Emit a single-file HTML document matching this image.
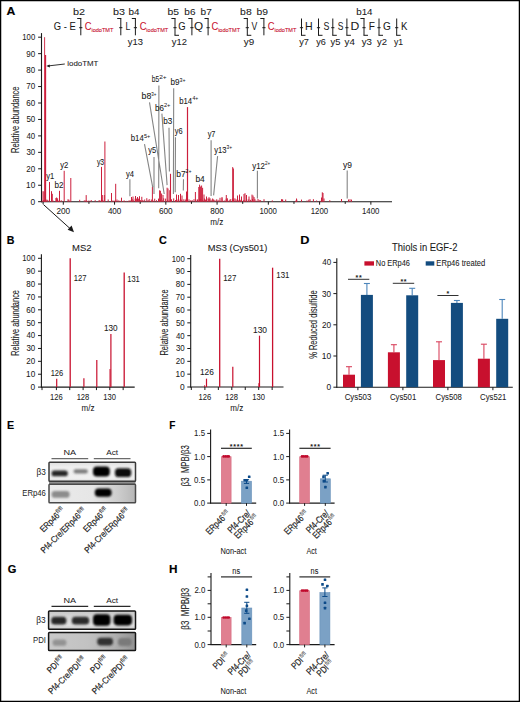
<!DOCTYPE html>
<html><head><meta charset="utf-8"><style>
html,body{margin:0;padding:0;background:#fff;}
svg{display:block;font-family:"Liberation Sans",sans-serif;fill:#1a1a1a;}
</style></head><body>
<svg width="520" height="702" viewBox="0 0 520 702" fill="#1a1a1a">
<rect x="0" y="0" width="520" height="702" fill="#fff"/>
<rect x="0.6" y="0.6" width="518.8" height="700.8" fill="none" stroke="#000" stroke-width="1.3"/>
<text x="6.59" y="15.40" font-size="11.2" fill="#000" stroke="#000" stroke-width="0.15" font-weight="bold" textLength="8.84" lengthAdjust="spacingAndGlyphs">A</text>
<text x="6.78" y="243.70" font-size="11.2" fill="#000" stroke="#000" stroke-width="0.15" font-weight="bold" textLength="7.70" lengthAdjust="spacingAndGlyphs">B</text>
<text x="158.97" y="244.00" font-size="11.2" fill="#000" stroke="#000" stroke-width="0.15" font-weight="bold" textLength="7.83" lengthAdjust="spacingAndGlyphs">C</text>
<text x="300.24" y="244.00" font-size="11.2" fill="#000" stroke="#000" stroke-width="0.15" font-weight="bold" textLength="9.20" lengthAdjust="spacingAndGlyphs">D</text>
<text x="6.98" y="429.30" font-size="11.2" fill="#000" stroke="#000" stroke-width="0.15" font-weight="bold" textLength="7.15" lengthAdjust="spacingAndGlyphs">E</text>
<text x="169.22" y="429.20" font-size="11.2" fill="#000" stroke="#000" stroke-width="0.15" font-weight="bold" textLength="6.14" lengthAdjust="spacingAndGlyphs">F</text>
<text x="7.66" y="572.60" font-size="11.2" fill="#000" stroke="#000" stroke-width="0.15" font-weight="bold" textLength="8.64" lengthAdjust="spacingAndGlyphs">G</text>
<text x="169.11" y="572.50" font-size="11.2" fill="#000" stroke="#000" stroke-width="0.15" font-weight="bold" textLength="8.48" lengthAdjust="spacingAndGlyphs">H</text>
<text x="53.83" y="29.95" font-size="10.2" stroke="#1a1a1a" stroke-width="0.04" textLength="21.96" lengthAdjust="spacingAndGlyphs">G - E</text>
<line x1="80.80" y1="18.50" x2="80.80" y2="35.30" stroke="#1a1a1a" stroke-width="1"/>
<line x1="77.20" y1="18.50" x2="81.30" y2="18.50" stroke="#1a1a1a" stroke-width="1"/>
<line x1="79.20" y1="27.70" x2="82.40" y2="27.70" stroke="#1a1a1a" stroke-width="1"/>
<text x="73.09" y="15.30" font-size="9.3" stroke="#1a1a1a" stroke-width="0.06" textLength="12.07" lengthAdjust="spacingAndGlyphs">b2</text>
<text x="84.83" y="29.95" font-size="10.2" fill="#c8102e" stroke="#c8102e" stroke-width="0.04" textLength="6.82" lengthAdjust="spacingAndGlyphs">C</text>
<text x="91.43" y="32.10" font-size="5.6" fill="#c8102e" stroke="#c8102e" stroke-width="0.1" textLength="21.90" lengthAdjust="spacingAndGlyphs">iodoTMT</text>
<line x1="120.80" y1="18.50" x2="120.80" y2="35.30" stroke="#1a1a1a" stroke-width="1"/>
<line x1="117.20" y1="18.50" x2="121.30" y2="18.50" stroke="#1a1a1a" stroke-width="1"/>
<line x1="119.20" y1="27.70" x2="122.40" y2="27.70" stroke="#1a1a1a" stroke-width="1"/>
<text x="113.10" y="15.30" font-size="9.3" stroke="#1a1a1a" stroke-width="0.06" textLength="11.98" lengthAdjust="spacingAndGlyphs">b3</text>
<text x="125.49" y="29.95" font-size="10.2" stroke="#1a1a1a" stroke-width="0.04" textLength="4.80" lengthAdjust="spacingAndGlyphs">L</text>
<line x1="135.40" y1="18.50" x2="135.40" y2="35.30" stroke="#1a1a1a" stroke-width="1"/>
<line x1="131.80" y1="18.50" x2="135.90" y2="18.50" stroke="#1a1a1a" stroke-width="1"/>
<line x1="133.80" y1="27.70" x2="137.00" y2="27.70" stroke="#1a1a1a" stroke-width="1"/>
<text x="128.56" y="15.30" font-size="9.3" stroke="#1a1a1a" stroke-width="0.06" textLength="10.93" lengthAdjust="spacingAndGlyphs">b4</text>
<text x="127.88" y="45.30" font-size="9.3" stroke="#1a1a1a" stroke-width="0.06" textLength="15.14" lengthAdjust="spacingAndGlyphs">y13</text>
<text x="139.73" y="29.95" font-size="10.2" fill="#c8102e" stroke="#c8102e" stroke-width="0.04" textLength="6.82" lengthAdjust="spacingAndGlyphs">C</text>
<text x="146.33" y="32.10" font-size="5.6" fill="#c8102e" stroke="#c8102e" stroke-width="0.1" textLength="21.90" lengthAdjust="spacingAndGlyphs">iodoTMT</text>
<line x1="175.00" y1="18.50" x2="175.00" y2="35.30" stroke="#1a1a1a" stroke-width="1"/>
<line x1="171.40" y1="18.50" x2="175.50" y2="18.50" stroke="#1a1a1a" stroke-width="1"/>
<line x1="174.50" y1="35.30" x2="179.00" y2="35.30" stroke="#1a1a1a" stroke-width="1"/>
<line x1="173.40" y1="27.70" x2="176.60" y2="27.70" stroke="#1a1a1a" stroke-width="1"/>
<text x="167.43" y="15.30" font-size="9.3" stroke="#1a1a1a" stroke-width="0.06" textLength="11.51" lengthAdjust="spacingAndGlyphs">b5</text>
<text x="171.88" y="45.30" font-size="9.3" stroke="#1a1a1a" stroke-width="0.06" textLength="15.11" lengthAdjust="spacingAndGlyphs">y12</text>
<text x="178.32" y="29.95" font-size="10.2" stroke="#1a1a1a" stroke-width="0.04" textLength="7.39" lengthAdjust="spacingAndGlyphs">G</text>
<line x1="191.90" y1="18.50" x2="191.90" y2="35.30" stroke="#1a1a1a" stroke-width="1"/>
<line x1="188.30" y1="18.50" x2="192.40" y2="18.50" stroke="#1a1a1a" stroke-width="1"/>
<line x1="190.30" y1="27.70" x2="193.50" y2="27.70" stroke="#1a1a1a" stroke-width="1"/>
<text x="184.35" y="15.30" font-size="9.3" stroke="#1a1a1a" stroke-width="0.06" textLength="11.10" lengthAdjust="spacingAndGlyphs">b6</text>
<text x="193.94" y="29.95" font-size="10.2" stroke="#1a1a1a" stroke-width="0.04" textLength="9.12" lengthAdjust="spacingAndGlyphs">Q</text>
<line x1="208.10" y1="18.50" x2="208.10" y2="35.30" stroke="#1a1a1a" stroke-width="1"/>
<line x1="204.50" y1="18.50" x2="208.60" y2="18.50" stroke="#1a1a1a" stroke-width="1"/>
<line x1="206.50" y1="27.70" x2="209.70" y2="27.70" stroke="#1a1a1a" stroke-width="1"/>
<text x="200.55" y="15.30" font-size="9.3" stroke="#1a1a1a" stroke-width="0.06" textLength="11.18" lengthAdjust="spacingAndGlyphs">b7</text>
<text x="211.53" y="29.95" font-size="10.2" fill="#c8102e" stroke="#c8102e" stroke-width="0.04" textLength="6.82" lengthAdjust="spacingAndGlyphs">C</text>
<text x="218.13" y="32.10" font-size="5.6" fill="#c8102e" stroke="#c8102e" stroke-width="0.1" textLength="21.90" lengthAdjust="spacingAndGlyphs">iodoTMT</text>
<line x1="247.30" y1="18.50" x2="247.30" y2="35.30" stroke="#1a1a1a" stroke-width="1"/>
<line x1="243.70" y1="18.50" x2="247.80" y2="18.50" stroke="#1a1a1a" stroke-width="1"/>
<line x1="246.80" y1="35.30" x2="251.30" y2="35.30" stroke="#1a1a1a" stroke-width="1"/>
<line x1="245.70" y1="27.70" x2="248.90" y2="27.70" stroke="#1a1a1a" stroke-width="1"/>
<text x="240.13" y="15.30" font-size="9.3" stroke="#1a1a1a" stroke-width="0.06" textLength="11.54" lengthAdjust="spacingAndGlyphs">b8</text>
<text x="243.88" y="45.30" font-size="9.3" stroke="#1a1a1a" stroke-width="0.06" textLength="10.38" lengthAdjust="spacingAndGlyphs">y9</text>
<text x="251.56" y="29.95" font-size="10.2" stroke="#1a1a1a" stroke-width="0.04" textLength="5.78" lengthAdjust="spacingAndGlyphs">V</text>
<line x1="263.90" y1="18.50" x2="263.90" y2="35.30" stroke="#1a1a1a" stroke-width="1"/>
<line x1="260.30" y1="18.50" x2="264.40" y2="18.50" stroke="#1a1a1a" stroke-width="1"/>
<line x1="262.30" y1="27.70" x2="265.50" y2="27.70" stroke="#1a1a1a" stroke-width="1"/>
<text x="256.63" y="15.30" font-size="9.3" stroke="#1a1a1a" stroke-width="0.06" textLength="11.46" lengthAdjust="spacingAndGlyphs">b9</text>
<text x="267.83" y="29.95" font-size="10.2" fill="#c8102e" stroke="#c8102e" stroke-width="0.04" textLength="6.82" lengthAdjust="spacingAndGlyphs">C</text>
<text x="274.43" y="32.10" font-size="5.6" fill="#c8102e" stroke="#c8102e" stroke-width="0.1" textLength="21.90" lengthAdjust="spacingAndGlyphs">iodoTMT</text>
<line x1="301.50" y1="18.50" x2="301.50" y2="35.30" stroke="#1a1a1a" stroke-width="1"/>
<line x1="301.00" y1="35.30" x2="305.50" y2="35.30" stroke="#1a1a1a" stroke-width="1"/>
<line x1="299.90" y1="27.70" x2="303.10" y2="27.70" stroke="#1a1a1a" stroke-width="1"/>
<text x="299.28" y="45.30" font-size="9.3" stroke="#1a1a1a" stroke-width="0.06" textLength="9.69" lengthAdjust="spacingAndGlyphs">y7</text>
<text x="305.13" y="29.95" font-size="10.2" stroke="#1a1a1a" stroke-width="0.04" textLength="7.64" lengthAdjust="spacingAndGlyphs">H</text>
<line x1="318.50" y1="18.50" x2="318.50" y2="35.30" stroke="#1a1a1a" stroke-width="1"/>
<line x1="318.00" y1="35.30" x2="322.50" y2="35.30" stroke="#1a1a1a" stroke-width="1"/>
<line x1="316.90" y1="27.70" x2="320.10" y2="27.70" stroke="#1a1a1a" stroke-width="1"/>
<text x="316.18" y="45.30" font-size="9.3" stroke="#1a1a1a" stroke-width="0.06" textLength="9.62" lengthAdjust="spacingAndGlyphs">y6</text>
<text x="323.40" y="29.95" font-size="10.2" stroke="#1a1a1a" stroke-width="0.04" textLength="5.89" lengthAdjust="spacingAndGlyphs">S</text>
<line x1="332.80" y1="18.50" x2="332.80" y2="35.30" stroke="#1a1a1a" stroke-width="1"/>
<line x1="332.30" y1="35.30" x2="336.80" y2="35.30" stroke="#1a1a1a" stroke-width="1"/>
<line x1="331.20" y1="27.70" x2="334.40" y2="27.70" stroke="#1a1a1a" stroke-width="1"/>
<text x="330.48" y="45.30" font-size="9.3" stroke="#1a1a1a" stroke-width="0.06" textLength="9.91" lengthAdjust="spacingAndGlyphs">y5</text>
<text x="337.82" y="29.95" font-size="10.2" stroke="#1a1a1a" stroke-width="0.04" textLength="5.66" lengthAdjust="spacingAndGlyphs">S</text>
<line x1="346.90" y1="18.50" x2="346.90" y2="35.30" stroke="#1a1a1a" stroke-width="1"/>
<line x1="346.40" y1="35.30" x2="350.90" y2="35.30" stroke="#1a1a1a" stroke-width="1"/>
<line x1="345.30" y1="27.70" x2="348.50" y2="27.70" stroke="#1a1a1a" stroke-width="1"/>
<text x="344.58" y="45.30" font-size="9.3" stroke="#1a1a1a" stroke-width="0.06" textLength="10.30" lengthAdjust="spacingAndGlyphs">y4</text>
<text x="350.50" y="29.95" font-size="10.2" stroke="#1a1a1a" stroke-width="0.04" textLength="8.78" lengthAdjust="spacingAndGlyphs">D</text>
<line x1="364.00" y1="18.50" x2="364.00" y2="35.30" stroke="#1a1a1a" stroke-width="1"/>
<line x1="360.40" y1="18.50" x2="364.50" y2="18.50" stroke="#1a1a1a" stroke-width="1"/>
<line x1="363.50" y1="35.30" x2="368.00" y2="35.30" stroke="#1a1a1a" stroke-width="1"/>
<line x1="362.40" y1="27.70" x2="365.60" y2="27.70" stroke="#1a1a1a" stroke-width="1"/>
<text x="356.26" y="15.30" font-size="9.3" stroke="#1a1a1a" stroke-width="0.06" textLength="16.31" lengthAdjust="spacingAndGlyphs">b14</text>
<text x="361.68" y="45.30" font-size="9.3" stroke="#1a1a1a" stroke-width="0.06" textLength="10.25" lengthAdjust="spacingAndGlyphs">y3</text>
<text x="368.67" y="29.95" font-size="10.2" stroke="#1a1a1a" stroke-width="0.04" textLength="6.14" lengthAdjust="spacingAndGlyphs">F</text>
<line x1="379.00" y1="18.50" x2="379.00" y2="35.30" stroke="#1a1a1a" stroke-width="1"/>
<line x1="378.50" y1="35.30" x2="383.00" y2="35.30" stroke="#1a1a1a" stroke-width="1"/>
<line x1="377.40" y1="27.70" x2="380.60" y2="27.70" stroke="#1a1a1a" stroke-width="1"/>
<text x="376.98" y="45.30" font-size="9.3" stroke="#1a1a1a" stroke-width="0.06" textLength="10.01" lengthAdjust="spacingAndGlyphs">y2</text>
<text x="383.09" y="29.95" font-size="10.2" stroke="#1a1a1a" stroke-width="0.04" textLength="7.87" lengthAdjust="spacingAndGlyphs">G</text>
<line x1="396.70" y1="18.50" x2="396.70" y2="35.30" stroke="#1a1a1a" stroke-width="1"/>
<line x1="396.20" y1="35.30" x2="400.70" y2="35.30" stroke="#1a1a1a" stroke-width="1"/>
<line x1="395.10" y1="27.70" x2="398.30" y2="27.70" stroke="#1a1a1a" stroke-width="1"/>
<text x="393.98" y="45.30" font-size="9.3" stroke="#1a1a1a" stroke-width="0.06" textLength="9.14" lengthAdjust="spacingAndGlyphs">y1</text>
<text x="401.01" y="29.95" font-size="10.2" stroke="#1a1a1a" stroke-width="0.04" textLength="6.41" lengthAdjust="spacingAndGlyphs">K</text>
<line x1="41.50" y1="33.10" x2="41.50" y2="202.20" stroke="#1a1a1a" stroke-width="1.1"/>
<line x1="41.00" y1="201.70" x2="392.00" y2="201.70" stroke="#1a1a1a" stroke-width="1.1"/>
<line x1="38.10" y1="201.70" x2="41.50" y2="201.70" stroke="#1a1a1a" stroke-width="1"/>
<text x="30.56" y="204.60" font-size="8.6" stroke="#1a1a1a" stroke-width="0.05" textLength="4.66" lengthAdjust="spacingAndGlyphs">0</text>
<line x1="38.10" y1="185.25" x2="41.50" y2="185.25" stroke="#1a1a1a" stroke-width="1"/>
<text x="26.08" y="188.15" font-size="8.6" stroke="#1a1a1a" stroke-width="0.05" textLength="9.14" lengthAdjust="spacingAndGlyphs">10</text>
<line x1="38.10" y1="168.80" x2="41.50" y2="168.80" stroke="#1a1a1a" stroke-width="1"/>
<text x="26.30" y="171.70" font-size="8.6" stroke="#1a1a1a" stroke-width="0.05" textLength="8.92" lengthAdjust="spacingAndGlyphs">20</text>
<line x1="38.10" y1="152.35" x2="41.50" y2="152.35" stroke="#1a1a1a" stroke-width="1"/>
<text x="26.40" y="155.25" font-size="8.6" stroke="#1a1a1a" stroke-width="0.05" textLength="8.81" lengthAdjust="spacingAndGlyphs">30</text>
<line x1="38.10" y1="135.90" x2="41.50" y2="135.90" stroke="#1a1a1a" stroke-width="1"/>
<text x="26.52" y="138.80" font-size="8.6" stroke="#1a1a1a" stroke-width="0.05" textLength="8.69" lengthAdjust="spacingAndGlyphs">40</text>
<line x1="38.10" y1="119.45" x2="41.50" y2="119.45" stroke="#1a1a1a" stroke-width="1"/>
<text x="26.38" y="122.35" font-size="8.6" stroke="#1a1a1a" stroke-width="0.05" textLength="8.83" lengthAdjust="spacingAndGlyphs">50</text>
<line x1="38.10" y1="103.00" x2="41.50" y2="103.00" stroke="#1a1a1a" stroke-width="1"/>
<text x="26.30" y="105.90" font-size="8.6" stroke="#1a1a1a" stroke-width="0.05" textLength="8.92" lengthAdjust="spacingAndGlyphs">60</text>
<line x1="38.10" y1="86.55" x2="41.50" y2="86.55" stroke="#1a1a1a" stroke-width="1"/>
<text x="26.30" y="89.45" font-size="8.6" stroke="#1a1a1a" stroke-width="0.05" textLength="8.92" lengthAdjust="spacingAndGlyphs">70</text>
<line x1="38.10" y1="70.10" x2="41.50" y2="70.10" stroke="#1a1a1a" stroke-width="1"/>
<text x="26.36" y="73.00" font-size="8.6" stroke="#1a1a1a" stroke-width="0.05" textLength="8.86" lengthAdjust="spacingAndGlyphs">80</text>
<line x1="38.10" y1="53.65" x2="41.50" y2="53.65" stroke="#1a1a1a" stroke-width="1"/>
<text x="26.32" y="56.55" font-size="8.6" stroke="#1a1a1a" stroke-width="0.05" textLength="8.90" lengthAdjust="spacingAndGlyphs">90</text>
<line x1="38.10" y1="37.20" x2="41.50" y2="37.20" stroke="#1a1a1a" stroke-width="1"/>
<text x="22.32" y="40.10" font-size="8.6" stroke="#1a1a1a" stroke-width="0.05" textLength="12.88" lengthAdjust="spacingAndGlyphs">100</text>
<line x1="63.30" y1="201.70" x2="63.30" y2="204.70" stroke="#1a1a1a" stroke-width="1"/>
<text x="56.39" y="214.00" font-size="8.6" stroke="#1a1a1a" stroke-width="0.05" textLength="13.73" lengthAdjust="spacingAndGlyphs">200</text>
<line x1="88.93" y1="201.70" x2="88.93" y2="203.90" stroke="#1a1a1a" stroke-width="1"/>
<line x1="114.56" y1="201.70" x2="114.56" y2="204.70" stroke="#1a1a1a" stroke-width="1"/>
<text x="107.88" y="214.00" font-size="8.6" stroke="#1a1a1a" stroke-width="0.05" textLength="13.49" lengthAdjust="spacingAndGlyphs">400</text>
<line x1="140.19" y1="201.70" x2="140.19" y2="203.90" stroke="#1a1a1a" stroke-width="1"/>
<line x1="165.82" y1="201.70" x2="165.82" y2="204.70" stroke="#1a1a1a" stroke-width="1"/>
<text x="158.91" y="214.00" font-size="8.6" stroke="#1a1a1a" stroke-width="0.05" textLength="13.73" lengthAdjust="spacingAndGlyphs">600</text>
<line x1="191.45" y1="201.70" x2="191.45" y2="203.90" stroke="#1a1a1a" stroke-width="1"/>
<line x1="217.08" y1="201.70" x2="217.08" y2="204.70" stroke="#1a1a1a" stroke-width="1"/>
<text x="210.23" y="214.00" font-size="8.6" stroke="#1a1a1a" stroke-width="0.05" textLength="13.66" lengthAdjust="spacingAndGlyphs">800</text>
<line x1="242.71" y1="201.70" x2="242.71" y2="203.90" stroke="#1a1a1a" stroke-width="1"/>
<line x1="268.34" y1="201.70" x2="268.34" y2="204.70" stroke="#1a1a1a" stroke-width="1"/>
<text x="259.50" y="214.00" font-size="8.6" stroke="#1a1a1a" stroke-width="0.05" textLength="17.40" lengthAdjust="spacingAndGlyphs">1000</text>
<line x1="293.97" y1="201.70" x2="293.97" y2="203.90" stroke="#1a1a1a" stroke-width="1"/>
<line x1="319.60" y1="201.70" x2="319.60" y2="204.70" stroke="#1a1a1a" stroke-width="1"/>
<text x="310.76" y="214.00" font-size="8.6" stroke="#1a1a1a" stroke-width="0.05" textLength="17.40" lengthAdjust="spacingAndGlyphs">1200</text>
<line x1="345.23" y1="201.70" x2="345.23" y2="203.90" stroke="#1a1a1a" stroke-width="1"/>
<line x1="370.86" y1="201.70" x2="370.86" y2="204.70" stroke="#1a1a1a" stroke-width="1"/>
<text x="362.02" y="214.00" font-size="8.6" stroke="#1a1a1a" stroke-width="0.05" textLength="17.40" lengthAdjust="spacingAndGlyphs">1400</text>
<line x1="43.10" y1="201.70" x2="43.10" y2="204.20" stroke="#1a1a1a" stroke-width="1"/>
<text x="210.25" y="224.80" font-size="9.6" stroke="#1a1a1a" stroke-width="0.05" textLength="13.06" lengthAdjust="spacingAndGlyphs">m/z</text>
<text transform="translate(19.00,152.40) rotate(-90)" x="-0.62" y="0" font-size="10.2" stroke="#1a1a1a" stroke-width="0.08" textLength="66.54" lengthAdjust="spacingAndGlyphs">Relative abundance</text>
<path d="M42.0 201.7V200.7M43.7 201.7V200.0M45.0 201.7V200.1M45.9 201.7V200.8M46.8 201.7V199.6M47.8 201.7V199.9M53.3 201.7V200.7M57.3 201.7V200.0M58.2 201.7V200.6M59.9 201.7V200.4M61.6 201.7V200.4M68.0 201.7V199.3M68.9 201.7V199.7M70.0 201.7V200.8M79.7 201.7V199.8M84.3 201.7V200.3M86.0 201.7V200.2M87.0 201.7V200.8M88.9 201.7V200.5M91.2 201.7V200.0M95.2 201.7V200.2M98.7 201.7V200.6M99.8 201.7V200.1M101.4 201.7V200.9M102.8 201.7V200.0M108.2 201.7V199.5M112.0 201.7V200.3M113.8 201.7V200.6M114.9 201.7V200.8M115.7 201.7V200.7M117.0 201.7V199.5M118.6 201.7V200.5M119.9 201.7V200.7M123.4 201.7V200.8M124.3 201.7V200.5M126.3 201.7V200.9M128.4 201.7V200.7M130.0 201.7V200.1M132.1 201.7V198.9M133.3 201.7V200.3M135.2 201.7V198.7M136.4 201.7V198.6M138.6 201.7V198.6M140.6 201.7V200.1M142.1 201.7V200.6M142.9 201.7V200.0M144.7 201.7V199.5M146.8 201.7V198.2M148.1 201.7V200.1M149.2 201.7V199.1M151.3 201.7V199.5M153.0 201.7V200.5M154.7 201.7V198.7M156.5 201.7V200.2M158.5 201.7V198.6M160.6 201.7V199.7M162.7 201.7V200.3M163.7 201.7V198.3M165.6 201.7V198.6M167.8 201.7V199.8M169.4 201.7V200.7M171.5 201.7V199.3M173.7 201.7V198.4M175.6 201.7V200.0M176.8 201.7V199.2M178.0 201.7V200.4M180.1 201.7V199.5M181.7 201.7V199.6M183.8 201.7V199.3M185.3 201.7V199.6M186.3 201.7V198.6M187.4 201.7V198.8M189.0 201.7V199.4M190.5 201.7V200.4M192.1 201.7V200.0M194.0 201.7V199.2M195.9 201.7V199.5M197.5 201.7V199.4M199.3 201.7V199.3M200.8 201.7V198.9M202.8 201.7V200.0M204.4 201.7V198.5M205.4 201.7V199.6M206.3 201.7V200.5M208.0 201.7V198.4M209.0 201.7V199.0M210.0 201.7V198.2M211.1 201.7V199.7M212.6 201.7V198.5M213.6 201.7V199.4M214.9 201.7V199.9M216.7 201.7V199.3M218.1 201.7V199.8M219.8 201.7V200.5M222.0 201.7V198.2M222.9 201.7V200.6M224.8 201.7V200.4M226.2 201.7V198.6M227.4 201.7V198.3M229.0 201.7V200.5M229.9 201.7V199.6M230.8 201.7V199.1M232.7 201.7V198.5M233.6 201.7V199.5M234.9 201.7V198.3M236.0 201.7V199.3M237.2 201.7V200.3M238.0 201.7V199.9M239.3 201.7V199.9M240.8 201.7V199.8M241.6 201.7V200.7M243.4 201.7V200.2M244.9 201.7V200.4M246.8 201.7V199.4M248.8 201.7V199.4M250.6 201.7V199.8M252.5 201.7V199.0M253.9 201.7V200.6M254.9 201.7V198.8M256.0 201.7V200.5M258.0 201.7V199.0M259.2 201.7V199.9M260.6 201.7V200.2M272.3 201.7V200.4M282.7 201.7V199.6M295.5 201.7V200.7M296.8 201.7V199.6M301.5 201.7V199.6M307.0 201.7V200.5M308.8 201.7V199.7M316.6 201.7V200.5M320.1 201.7V200.8M329.8 201.7V200.2M43.0 201.7V191.2M44.0 201.7V191.5M49.5 201.7V182.0M51.5 201.7V191.2M52.3 201.7V193.8M55.9 201.7V198.0M56.6 201.7V197.5M57.6 201.7V198.3M59.5 201.7V190.8M64.2 201.7V170.8M70.8 201.7V178.0M86.2 201.7V195.1M101.5 201.7V166.9M102.3 201.7V195.0M104.3 201.7V195.0M104.9 201.7V141.5M111.5 201.7V193.0M115.7 201.7V183.8M121.5 201.7V197.7M131.5 201.7V197.0M133.0 201.7V196.5M135.5 201.7V196.0M137.5 201.7V197.0M139.5 201.7V196.2M141.8 201.7V196.8M152.4 201.7V186.6M159.6 201.7V190.3M160.4 201.7V190.8M161.6 201.7V193.5M163.0 201.7V195.0M167.1 201.7V187.7M168.0 201.7V188.5M169.8 201.7V190.2M176.5 201.7V194.5M178.5 201.7V195.0M180.5 201.7V193.8M182.0 201.7V195.5M186.5 201.7V191.5M195.4 201.7V192.0M198.8 201.7V187.0M199.6 201.7V184.6M200.6 201.7V186.5M201.6 201.7V185.5M202.6 201.7V187.8M204.0 201.7V194.5M206.5 201.7V196.5M209.0 201.7V197.2M220.0 201.7V197.8M222.0 201.7V197.0M226.3 201.7V195.0M232.7 201.7V167.1M233.4 201.7V168.5M237.5 201.7V195.5M239.5 201.7V194.5M241.5 201.7V196.5M244.0 201.7V194.0M245.0 201.7V193.2M246.5 201.7V195.0M249.0 201.7V196.5M252.0 201.7V194.6M253.0 201.7V195.5M254.0 201.7V197.0M264.0 201.7V199.2M281.5 201.7V199.2M282.5 201.7V199.5M285.7 201.7V199.5M296.5 201.7V198.5M310.0 201.7V199.2M313.4 201.7V199.2M321.5 201.7V197.5M322.3 201.7V192.3M323.0 201.7V193.0M324.0 201.7V198.5M341.5 201.7V199.0M348.5 201.7V199.5M350.0 201.7V199.2M351.5 201.7V199.6" stroke="#cc1f3c" stroke-width="1" fill="none"/>
<line x1="44.60" y1="201.70" x2="44.60" y2="37.20" stroke="#cc1f3c" stroke-width="0.9"/>
<line x1="45.50" y1="201.70" x2="45.50" y2="55.00" stroke="#cc1f3c" stroke-width="1.3"/>
<line x1="170.50" y1="201.70" x2="170.50" y2="173.80" stroke="#cc1f3c" stroke-width="1.1"/>
<line x1="187.50" y1="201.70" x2="187.50" y2="107.10" stroke="#cc1f3c" stroke-width="1.2"/>
<path d="M129.9 179.2L129.9 196.2M154.0 157.0L154.0 194.0M158.9 85.6L158.7 188.3M173.7 88.3L173.4 194.0M149.5 102.4L164.2 194.0M161.9 113.6L167.1 185.1M169.0 127.8L169.4 171.5M175.5 137.2L175.2 192.3M144.5 144.2L152.7 187.1M183.5 179.2L183.3 190.6M211.1 140.2L211.1 196.0M217.6 156.1L213.6 195.4M257.4 170.8L257.4 198.5M347.2 170.5L347.2 198.5" stroke="#858585" stroke-width="1.1" fill="none"/>
<text x="46.18" y="179.20" font-size="8.4" stroke="#1a1a1a" stroke-width="0.08" textLength="7.99" lengthAdjust="spacingAndGlyphs">y1</text>
<text x="54.58" y="187.70" font-size="8.4" stroke="#1a1a1a" stroke-width="0.08" textLength="8.94" lengthAdjust="spacingAndGlyphs">b2</text>
<text x="60.28" y="167.70" font-size="8.4" stroke="#1a1a1a" stroke-width="0.08" textLength="8.11" lengthAdjust="spacingAndGlyphs">y2</text>
<text x="96.88" y="164.60" font-size="8.4" stroke="#1a1a1a" stroke-width="0.08" textLength="7.22" lengthAdjust="spacingAndGlyphs">y3</text>
<text x="125.98" y="176.90" font-size="8.4" stroke="#1a1a1a" stroke-width="0.08" textLength="8.04" lengthAdjust="spacingAndGlyphs">y4</text>
<text x="130.80" y="140.90" font-size="8.4" stroke="#1a1a1a" stroke-width="0.08" textLength="12.92" lengthAdjust="spacingAndGlyphs">b14</text>
<text x="143.88" y="137.50" font-size="5.8" stroke="#1a1a1a" stroke-width="0.05" textLength="6.30" lengthAdjust="spacingAndGlyphs">5+</text>
<text x="148.18" y="153.00" font-size="8.4" stroke="#1a1a1a" stroke-width="0.08" textLength="7.93" lengthAdjust="spacingAndGlyphs">y5</text>
<text x="151.77" y="82.20" font-size="8.4" stroke="#1a1a1a" stroke-width="0.08" textLength="7.42" lengthAdjust="spacingAndGlyphs">b5</text>
<text x="159.17" y="78.80" font-size="5.8" stroke="#1a1a1a" stroke-width="0.05" textLength="7.45" lengthAdjust="spacingAndGlyphs">2+</text>
<text x="170.47" y="84.90" font-size="8.4" stroke="#1a1a1a" stroke-width="0.08" textLength="9.01" lengthAdjust="spacingAndGlyphs">b9</text>
<text x="179.50" y="81.50" font-size="5.8" stroke="#1a1a1a" stroke-width="0.05" textLength="5.96" lengthAdjust="spacingAndGlyphs">3+</text>
<text x="141.53" y="99.00" font-size="8.4" stroke="#1a1a1a" stroke-width="0.08" textLength="9.76" lengthAdjust="spacingAndGlyphs">b8</text>
<text x="151.33" y="95.60" font-size="5.8" stroke="#1a1a1a" stroke-width="0.05" textLength="5.09" lengthAdjust="spacingAndGlyphs">3+</text>
<text x="155.08" y="110.50" font-size="8.4" stroke="#1a1a1a" stroke-width="0.08" textLength="8.88" lengthAdjust="spacingAndGlyphs">b6</text>
<text x="163.92" y="107.10" font-size="5.8" stroke="#1a1a1a" stroke-width="0.05" textLength="6.47" lengthAdjust="spacingAndGlyphs">2+</text>
<text x="179.30" y="103.70" font-size="8.4" stroke="#1a1a1a" stroke-width="0.08" textLength="12.82" lengthAdjust="spacingAndGlyphs">b14</text>
<text x="192.38" y="100.30" font-size="5.8" stroke="#1a1a1a" stroke-width="0.05" textLength="5.87" lengthAdjust="spacingAndGlyphs">4+</text>
<text x="163.37" y="124.30" font-size="8.4" stroke="#1a1a1a" stroke-width="0.08" textLength="8.99" lengthAdjust="spacingAndGlyphs">b3</text>
<text x="174.68" y="133.50" font-size="8.4" stroke="#1a1a1a" stroke-width="0.08" textLength="7.84" lengthAdjust="spacingAndGlyphs">y6</text>
<text x="176.25" y="176.50" font-size="8.4" stroke="#1a1a1a" stroke-width="0.08" textLength="9.39" lengthAdjust="spacingAndGlyphs">b7</text>
<text x="185.54" y="173.10" font-size="5.8" stroke="#1a1a1a" stroke-width="0.05" textLength="5.92" lengthAdjust="spacingAndGlyphs">2+</text>
<text x="195.46" y="181.90" font-size="8.4" stroke="#1a1a1a" stroke-width="0.08" textLength="9.29" lengthAdjust="spacingAndGlyphs">b4</text>
<text x="207.68" y="137.30" font-size="8.4" stroke="#1a1a1a" stroke-width="0.08" textLength="7.80" lengthAdjust="spacingAndGlyphs">y7</text>
<text x="214.28" y="152.60" font-size="8.4" stroke="#1a1a1a" stroke-width="0.08" textLength="12.26" lengthAdjust="spacingAndGlyphs">y13</text>
<text x="226.61" y="149.20" font-size="5.8" stroke="#1a1a1a" stroke-width="0.05" textLength="5.63" lengthAdjust="spacingAndGlyphs">3+</text>
<text x="252.28" y="168.50" font-size="8.4" stroke="#1a1a1a" stroke-width="0.08" textLength="12.73" lengthAdjust="spacingAndGlyphs">y12</text>
<text x="264.97" y="165.10" font-size="5.8" stroke="#1a1a1a" stroke-width="0.05" textLength="5.26" lengthAdjust="spacingAndGlyphs">2+</text>
<text x="342.98" y="167.70" font-size="8.4" stroke="#1a1a1a" stroke-width="0.08" textLength="8.91" lengthAdjust="spacingAndGlyphs">y9</text>
<text x="67.27" y="66.40" font-size="7.9" stroke="#1a1a1a" stroke-width="0.06" textLength="31.11" lengthAdjust="spacingAndGlyphs">iodoTMT</text>
<line x1="64.80" y1="64.00" x2="48.50" y2="65.90" stroke="#1a1a1a" stroke-width="0.9"/>
<polygon points="46.3,66.1 49.6,64.4 49.9,67.5" fill="#1a1a1a"/>
<line x1="43.50" y1="204.60" x2="71.00" y2="229.40" stroke="#1a1a1a" stroke-width="1.0"/>
<polygon points="74.0,232.2 67.6,229.8 71.6,225.6" fill="#1a1a1a"/>
<line x1="41.40" y1="254.20" x2="41.40" y2="387.60" stroke="#1a1a1a" stroke-width="1.1"/>
<line x1="40.90" y1="387.10" x2="134.70" y2="387.10" stroke="#1a1a1a" stroke-width="1.1"/>
<line x1="38.00" y1="387.10" x2="41.40" y2="387.10" stroke="#1a1a1a" stroke-width="1"/>
<text x="30.56" y="390.00" font-size="8.6" stroke="#1a1a1a" stroke-width="0.05" textLength="4.66" lengthAdjust="spacingAndGlyphs">0</text>
<line x1="38.00" y1="374.22" x2="41.40" y2="374.22" stroke="#1a1a1a" stroke-width="1"/>
<text x="26.08" y="377.12" font-size="8.6" stroke="#1a1a1a" stroke-width="0.05" textLength="9.14" lengthAdjust="spacingAndGlyphs">10</text>
<line x1="38.00" y1="361.34" x2="41.40" y2="361.34" stroke="#1a1a1a" stroke-width="1"/>
<text x="26.30" y="364.24" font-size="8.6" stroke="#1a1a1a" stroke-width="0.05" textLength="8.92" lengthAdjust="spacingAndGlyphs">20</text>
<line x1="38.00" y1="348.46" x2="41.40" y2="348.46" stroke="#1a1a1a" stroke-width="1"/>
<text x="26.40" y="351.36" font-size="8.6" stroke="#1a1a1a" stroke-width="0.05" textLength="8.81" lengthAdjust="spacingAndGlyphs">30</text>
<line x1="38.00" y1="335.58" x2="41.40" y2="335.58" stroke="#1a1a1a" stroke-width="1"/>
<text x="26.52" y="338.48" font-size="8.6" stroke="#1a1a1a" stroke-width="0.05" textLength="8.69" lengthAdjust="spacingAndGlyphs">40</text>
<line x1="38.00" y1="322.70" x2="41.40" y2="322.70" stroke="#1a1a1a" stroke-width="1"/>
<text x="26.38" y="325.60" font-size="8.6" stroke="#1a1a1a" stroke-width="0.05" textLength="8.83" lengthAdjust="spacingAndGlyphs">50</text>
<line x1="38.00" y1="309.82" x2="41.40" y2="309.82" stroke="#1a1a1a" stroke-width="1"/>
<text x="26.30" y="312.72" font-size="8.6" stroke="#1a1a1a" stroke-width="0.05" textLength="8.92" lengthAdjust="spacingAndGlyphs">60</text>
<line x1="38.00" y1="296.94" x2="41.40" y2="296.94" stroke="#1a1a1a" stroke-width="1"/>
<text x="26.30" y="299.84" font-size="8.6" stroke="#1a1a1a" stroke-width="0.05" textLength="8.92" lengthAdjust="spacingAndGlyphs">70</text>
<line x1="38.00" y1="284.06" x2="41.40" y2="284.06" stroke="#1a1a1a" stroke-width="1"/>
<text x="26.36" y="286.96" font-size="8.6" stroke="#1a1a1a" stroke-width="0.05" textLength="8.86" lengthAdjust="spacingAndGlyphs">80</text>
<line x1="38.00" y1="271.18" x2="41.40" y2="271.18" stroke="#1a1a1a" stroke-width="1"/>
<text x="26.32" y="274.08" font-size="8.6" stroke="#1a1a1a" stroke-width="0.05" textLength="8.90" lengthAdjust="spacingAndGlyphs">90</text>
<line x1="38.00" y1="258.30" x2="41.40" y2="258.30" stroke="#1a1a1a" stroke-width="1"/>
<text x="22.32" y="261.20" font-size="8.6" stroke="#1a1a1a" stroke-width="0.05" textLength="12.88" lengthAdjust="spacingAndGlyphs">100</text>
<line x1="42.00" y1="387.10" x2="42.00" y2="390.10" stroke="#1a1a1a" stroke-width="1"/>
<line x1="56.40" y1="387.10" x2="56.40" y2="390.10" stroke="#1a1a1a" stroke-width="1"/>
<text x="49.93" y="399.60" font-size="8.6" stroke="#1a1a1a" stroke-width="0.05" textLength="12.70" lengthAdjust="spacingAndGlyphs">126</text>
<line x1="69.75" y1="387.10" x2="69.75" y2="390.10" stroke="#1a1a1a" stroke-width="1"/>
<line x1="83.10" y1="387.10" x2="83.10" y2="390.10" stroke="#1a1a1a" stroke-width="1"/>
<text x="76.63" y="399.60" font-size="8.6" stroke="#1a1a1a" stroke-width="0.05" textLength="12.70" lengthAdjust="spacingAndGlyphs">128</text>
<line x1="96.45" y1="387.10" x2="96.45" y2="390.10" stroke="#1a1a1a" stroke-width="1"/>
<line x1="109.80" y1="387.10" x2="109.80" y2="390.10" stroke="#1a1a1a" stroke-width="1"/>
<text x="103.33" y="399.60" font-size="8.6" stroke="#1a1a1a" stroke-width="0.05" textLength="12.66" lengthAdjust="spacingAndGlyphs">130</text>
<line x1="123.15" y1="387.10" x2="123.15" y2="390.10" stroke="#1a1a1a" stroke-width="1"/>
<text x="81.46" y="410.70" font-size="9.8" stroke="#1a1a1a" stroke-width="0.05" textLength="12.95" lengthAdjust="spacingAndGlyphs">m/z</text>
<line x1="56.70" y1="387.10" x2="56.70" y2="378.73" stroke="#c8102e" stroke-width="1.2"/>
<line x1="70.20" y1="387.10" x2="70.20" y2="258.30" stroke="#c8102e" stroke-width="1.3"/>
<line x1="83.90" y1="387.10" x2="83.90" y2="378.21" stroke="#c8102e" stroke-width="1.2"/>
<line x1="96.80" y1="387.10" x2="96.80" y2="360.05" stroke="#c8102e" stroke-width="1.2"/>
<line x1="110.00" y1="387.10" x2="110.00" y2="369.07" stroke="#c8102e" stroke-width="1.0"/>
<line x1="110.90" y1="387.10" x2="110.90" y2="333.91" stroke="#c8102e" stroke-width="1.2"/>
<line x1="124.20" y1="387.10" x2="124.20" y2="272.47" stroke="#c8102e" stroke-width="1.3"/>
<text x="50.64" y="375.50" font-size="8.6" stroke="#1a1a1a" stroke-width="0.06" textLength="12.49" lengthAdjust="spacingAndGlyphs">126</text>
<text x="73.73" y="281.30" font-size="8.6" stroke="#1a1a1a" stroke-width="0.06" textLength="12.76" lengthAdjust="spacingAndGlyphs">127</text>
<text x="103.89" y="330.50" font-size="8.6" stroke="#1a1a1a" stroke-width="0.06" textLength="13.63" lengthAdjust="spacingAndGlyphs">130</text>
<text x="127.24" y="282.30" font-size="8.6" stroke="#1a1a1a" stroke-width="0.06" textLength="12.53" lengthAdjust="spacingAndGlyphs">131</text>
<text x="72.12" y="251.00" font-size="9.4" stroke="#1a1a1a" stroke-width="0.08" textLength="19.47" lengthAdjust="spacingAndGlyphs">MS2</text>
<text transform="translate(19.00,355.20) rotate(-90)" x="-0.61" y="0" font-size="10.2" stroke="#1a1a1a" stroke-width="0.08" textLength="65.83" lengthAdjust="spacingAndGlyphs">Relative abundance</text>
<line x1="190.70" y1="255.10" x2="190.70" y2="387.50" stroke="#1a1a1a" stroke-width="1.1"/>
<line x1="190.20" y1="387.00" x2="283.50" y2="387.00" stroke="#1a1a1a" stroke-width="1.1"/>
<line x1="187.30" y1="387.00" x2="190.70" y2="387.00" stroke="#1a1a1a" stroke-width="1"/>
<text x="180.06" y="389.90" font-size="8.6" stroke="#1a1a1a" stroke-width="0.05" textLength="4.66" lengthAdjust="spacingAndGlyphs">0</text>
<line x1="187.30" y1="374.17" x2="190.70" y2="374.17" stroke="#1a1a1a" stroke-width="1"/>
<text x="175.58" y="377.07" font-size="8.6" stroke="#1a1a1a" stroke-width="0.05" textLength="9.14" lengthAdjust="spacingAndGlyphs">10</text>
<line x1="187.30" y1="361.34" x2="190.70" y2="361.34" stroke="#1a1a1a" stroke-width="1"/>
<text x="175.80" y="364.24" font-size="8.6" stroke="#1a1a1a" stroke-width="0.05" textLength="8.92" lengthAdjust="spacingAndGlyphs">20</text>
<line x1="187.30" y1="348.51" x2="190.70" y2="348.51" stroke="#1a1a1a" stroke-width="1"/>
<text x="175.90" y="351.41" font-size="8.6" stroke="#1a1a1a" stroke-width="0.05" textLength="8.81" lengthAdjust="spacingAndGlyphs">30</text>
<line x1="187.30" y1="335.68" x2="190.70" y2="335.68" stroke="#1a1a1a" stroke-width="1"/>
<text x="176.02" y="338.58" font-size="8.6" stroke="#1a1a1a" stroke-width="0.05" textLength="8.69" lengthAdjust="spacingAndGlyphs">40</text>
<line x1="187.30" y1="322.85" x2="190.70" y2="322.85" stroke="#1a1a1a" stroke-width="1"/>
<text x="175.88" y="325.75" font-size="8.6" stroke="#1a1a1a" stroke-width="0.05" textLength="8.83" lengthAdjust="spacingAndGlyphs">50</text>
<line x1="187.30" y1="310.02" x2="190.70" y2="310.02" stroke="#1a1a1a" stroke-width="1"/>
<text x="175.80" y="312.92" font-size="8.6" stroke="#1a1a1a" stroke-width="0.05" textLength="8.92" lengthAdjust="spacingAndGlyphs">60</text>
<line x1="187.30" y1="297.19" x2="190.70" y2="297.19" stroke="#1a1a1a" stroke-width="1"/>
<text x="175.80" y="300.09" font-size="8.6" stroke="#1a1a1a" stroke-width="0.05" textLength="8.92" lengthAdjust="spacingAndGlyphs">70</text>
<line x1="187.30" y1="284.36" x2="190.70" y2="284.36" stroke="#1a1a1a" stroke-width="1"/>
<text x="175.86" y="287.26" font-size="8.6" stroke="#1a1a1a" stroke-width="0.05" textLength="8.86" lengthAdjust="spacingAndGlyphs">80</text>
<line x1="187.30" y1="271.53" x2="190.70" y2="271.53" stroke="#1a1a1a" stroke-width="1"/>
<text x="175.82" y="274.43" font-size="8.6" stroke="#1a1a1a" stroke-width="0.05" textLength="8.90" lengthAdjust="spacingAndGlyphs">90</text>
<line x1="187.30" y1="258.70" x2="190.70" y2="258.70" stroke="#1a1a1a" stroke-width="1"/>
<text x="171.82" y="261.60" font-size="8.6" stroke="#1a1a1a" stroke-width="0.05" textLength="12.88" lengthAdjust="spacingAndGlyphs">100</text>
<line x1="191.30" y1="387.00" x2="191.30" y2="390.00" stroke="#1a1a1a" stroke-width="1"/>
<line x1="204.90" y1="387.00" x2="204.90" y2="390.00" stroke="#1a1a1a" stroke-width="1"/>
<text x="198.43" y="399.50" font-size="8.6" stroke="#1a1a1a" stroke-width="0.05" textLength="12.70" lengthAdjust="spacingAndGlyphs">126</text>
<line x1="218.35" y1="387.00" x2="218.35" y2="390.00" stroke="#1a1a1a" stroke-width="1"/>
<line x1="231.80" y1="387.00" x2="231.80" y2="390.00" stroke="#1a1a1a" stroke-width="1"/>
<text x="225.33" y="399.50" font-size="8.6" stroke="#1a1a1a" stroke-width="0.05" textLength="12.70" lengthAdjust="spacingAndGlyphs">128</text>
<line x1="245.25" y1="387.00" x2="245.25" y2="390.00" stroke="#1a1a1a" stroke-width="1"/>
<line x1="258.70" y1="387.00" x2="258.70" y2="390.00" stroke="#1a1a1a" stroke-width="1"/>
<text x="252.23" y="399.50" font-size="8.6" stroke="#1a1a1a" stroke-width="0.05" textLength="12.66" lengthAdjust="spacingAndGlyphs">130</text>
<line x1="272.15" y1="387.00" x2="272.15" y2="390.00" stroke="#1a1a1a" stroke-width="1"/>
<text x="230.36" y="410.60" font-size="9.8" stroke="#1a1a1a" stroke-width="0.05" textLength="12.95" lengthAdjust="spacingAndGlyphs">m/z</text>
<line x1="204.60" y1="387.00" x2="204.60" y2="385.33" stroke="#c8102e" stroke-width="1.0"/>
<line x1="206.50" y1="387.00" x2="206.50" y2="378.66" stroke="#c8102e" stroke-width="1.2"/>
<line x1="219.70" y1="387.00" x2="219.70" y2="258.70" stroke="#c8102e" stroke-width="1.3"/>
<line x1="232.80" y1="387.00" x2="232.80" y2="366.86" stroke="#c8102e" stroke-width="1.2"/>
<line x1="258.90" y1="387.00" x2="258.90" y2="383.15" stroke="#c8102e" stroke-width="1.0"/>
<line x1="259.50" y1="387.00" x2="259.50" y2="335.68" stroke="#c8102e" stroke-width="1.2"/>
<line x1="272.60" y1="387.00" x2="272.60" y2="267.68" stroke="#c8102e" stroke-width="1.3"/>
<text x="199.88" y="375.00" font-size="8.6" stroke="#1a1a1a" stroke-width="0.06" textLength="13.89" lengthAdjust="spacingAndGlyphs">126</text>
<text x="223.21" y="280.60" font-size="8.6" stroke="#1a1a1a" stroke-width="0.06" textLength="13.20" lengthAdjust="spacingAndGlyphs">127</text>
<text x="252.97" y="332.70" font-size="8.6" stroke="#1a1a1a" stroke-width="0.06" textLength="14.06" lengthAdjust="spacingAndGlyphs">130</text>
<text x="276.31" y="277.80" font-size="8.6" stroke="#1a1a1a" stroke-width="0.06" textLength="13.07" lengthAdjust="spacingAndGlyphs">131</text>
<text x="207.83" y="251.00" font-size="9.4" stroke="#1a1a1a" stroke-width="0.08" textLength="59.43" lengthAdjust="spacingAndGlyphs">MS3 (Cys501)</text>
<text transform="translate(167.80,355.00) rotate(-90)" x="-0.62" y="0" font-size="10.2" stroke="#1a1a1a" stroke-width="0.08" textLength="66.34" lengthAdjust="spacingAndGlyphs">Relative abundance</text>
<line x1="336.80" y1="258.20" x2="336.80" y2="387.70" stroke="#1a1a1a" stroke-width="1.1"/>
<line x1="336.30" y1="387.20" x2="512.80" y2="387.20" stroke="#1a1a1a" stroke-width="1.1"/>
<line x1="333.40" y1="387.20" x2="336.80" y2="387.20" stroke="#1a1a1a" stroke-width="1"/>
<text x="326.46" y="390.10" font-size="8.6" stroke="#1a1a1a" stroke-width="0.05" textLength="4.66" lengthAdjust="spacingAndGlyphs">0</text>
<line x1="333.40" y1="356.00" x2="336.80" y2="356.00" stroke="#1a1a1a" stroke-width="1"/>
<text x="321.77" y="358.90" font-size="8.6" stroke="#1a1a1a" stroke-width="0.05" textLength="9.37" lengthAdjust="spacingAndGlyphs">10</text>
<line x1="333.40" y1="324.80" x2="336.80" y2="324.80" stroke="#1a1a1a" stroke-width="1"/>
<text x="321.99" y="327.70" font-size="8.6" stroke="#1a1a1a" stroke-width="0.05" textLength="9.14" lengthAdjust="spacingAndGlyphs">20</text>
<line x1="333.40" y1="293.60" x2="336.80" y2="293.60" stroke="#1a1a1a" stroke-width="1"/>
<text x="322.10" y="296.50" font-size="8.6" stroke="#1a1a1a" stroke-width="0.05" textLength="9.03" lengthAdjust="spacingAndGlyphs">30</text>
<line x1="333.40" y1="262.40" x2="336.80" y2="262.40" stroke="#1a1a1a" stroke-width="1"/>
<text x="322.22" y="265.30" font-size="8.6" stroke="#1a1a1a" stroke-width="0.05" textLength="8.90" lengthAdjust="spacingAndGlyphs">40</text>
<line x1="357.90" y1="387.20" x2="357.90" y2="390.20" stroke="#1a1a1a" stroke-width="1"/>
<text x="344.71" y="399.70" font-size="8.6" stroke="#1a1a1a" stroke-width="0.06" textLength="26.53" lengthAdjust="spacingAndGlyphs">Cys503</text>
<line x1="402.90" y1="387.20" x2="402.90" y2="390.20" stroke="#1a1a1a" stroke-width="1"/>
<text x="389.91" y="399.70" font-size="8.6" stroke="#1a1a1a" stroke-width="0.06" textLength="26.36" lengthAdjust="spacingAndGlyphs">Cys501</text>
<line x1="447.90" y1="387.20" x2="447.90" y2="390.20" stroke="#1a1a1a" stroke-width="1"/>
<text x="435.61" y="399.70" font-size="8.6" stroke="#1a1a1a" stroke-width="0.06" textLength="26.22" lengthAdjust="spacingAndGlyphs">Cys508</text>
<line x1="492.90" y1="387.20" x2="492.90" y2="390.20" stroke="#1a1a1a" stroke-width="1"/>
<text x="480.11" y="399.70" font-size="8.6" stroke="#1a1a1a" stroke-width="0.06" textLength="26.26" lengthAdjust="spacingAndGlyphs">Cys521</text>
<text x="392.09" y="251.10" font-size="10.0" stroke="#1a1a1a" stroke-width="0.08" textLength="65.40" lengthAdjust="spacingAndGlyphs">Thiols in EGF-2</text>
<text transform="translate(317.00,358.60) rotate(-90)" x="-0.26" y="0" font-size="10.4" stroke="#1a1a1a" stroke-width="0.08" textLength="68.60" lengthAdjust="spacingAndGlyphs">% Reduced disulfide</text>
<line x1="349.00" y1="374.70" x2="349.00" y2="366.70" stroke="#d9445e" stroke-width="1.1"/>
<line x1="346.00" y1="366.70" x2="352.00" y2="366.70" stroke="#d9445e" stroke-width="1.1"/>
<rect x="343.00" y="374.70" width="12.00" height="12.50" fill="#c8102e"/>
<line x1="366.90" y1="294.90" x2="366.90" y2="283.50" stroke="#4d86bb" stroke-width="1.1"/>
<line x1="363.90" y1="283.50" x2="369.90" y2="283.50" stroke="#4d86bb" stroke-width="1.1"/>
<rect x="360.90" y="294.90" width="12.00" height="92.30" fill="#134c7f"/>
<line x1="393.90" y1="352.30" x2="393.90" y2="344.70" stroke="#d9445e" stroke-width="1.1"/>
<line x1="390.90" y1="344.70" x2="396.90" y2="344.70" stroke="#d9445e" stroke-width="1.1"/>
<rect x="387.90" y="352.30" width="12.00" height="34.90" fill="#c8102e"/>
<line x1="412.20" y1="295.30" x2="412.20" y2="288.30" stroke="#4d86bb" stroke-width="1.1"/>
<line x1="409.20" y1="288.30" x2="415.20" y2="288.30" stroke="#4d86bb" stroke-width="1.1"/>
<rect x="406.20" y="295.30" width="12.00" height="91.90" fill="#134c7f"/>
<line x1="439.00" y1="360.10" x2="439.00" y2="341.80" stroke="#d9445e" stroke-width="1.1"/>
<line x1="436.00" y1="341.80" x2="442.00" y2="341.80" stroke="#d9445e" stroke-width="1.1"/>
<rect x="433.00" y="360.10" width="12.00" height="27.10" fill="#c8102e"/>
<line x1="456.90" y1="302.90" x2="456.90" y2="300.50" stroke="#4d86bb" stroke-width="1.1"/>
<line x1="453.90" y1="300.50" x2="459.90" y2="300.50" stroke="#4d86bb" stroke-width="1.1"/>
<rect x="450.90" y="302.90" width="12.00" height="84.30" fill="#134c7f"/>
<line x1="483.90" y1="358.70" x2="483.90" y2="344.20" stroke="#d9445e" stroke-width="1.1"/>
<line x1="480.90" y1="344.20" x2="486.90" y2="344.20" stroke="#d9445e" stroke-width="1.1"/>
<rect x="477.90" y="358.70" width="12.00" height="28.50" fill="#c8102e"/>
<line x1="502.20" y1="318.80" x2="502.20" y2="299.50" stroke="#4d86bb" stroke-width="1.1"/>
<line x1="499.20" y1="299.50" x2="505.20" y2="299.50" stroke="#4d86bb" stroke-width="1.1"/>
<rect x="496.20" y="318.80" width="12.00" height="68.40" fill="#134c7f"/>
<line x1="348.00" y1="279.30" x2="369.30" y2="279.30" stroke="#1a1a1a" stroke-width="0.9"/>
<text x="356.95" y="279.70" font-size="7" font-weight="bold" text-anchor="middle" fill="#1a1a1a">*</text>
<text x="360.35" y="279.70" font-size="7" font-weight="bold" text-anchor="middle" fill="#1a1a1a">*</text>
<line x1="392.80" y1="283.30" x2="414.20" y2="283.30" stroke="#1a1a1a" stroke-width="0.9"/>
<text x="401.80" y="283.70" font-size="7" font-weight="bold" text-anchor="middle" fill="#1a1a1a">*</text>
<text x="405.20" y="283.70" font-size="7" font-weight="bold" text-anchor="middle" fill="#1a1a1a">*</text>
<line x1="437.40" y1="295.50" x2="458.50" y2="295.50" stroke="#1a1a1a" stroke-width="0.9"/>
<text x="447.95" y="295.90" font-size="7" font-weight="bold" text-anchor="middle" fill="#1a1a1a">*</text>
<rect x="364.40" y="261.30" width="9.60" height="4.30" fill="#c8102e"/>
<text x="375.79" y="265.80" font-size="8.6" stroke="#1a1a1a" stroke-width="0.06" textLength="34.14" lengthAdjust="spacingAndGlyphs">No ERp46</text>
<rect x="425.70" y="261.30" width="8.60" height="4.30" fill="#134c7f"/>
<text x="436.37" y="265.80" font-size="8.6" stroke="#1a1a1a" stroke-width="0.06" textLength="48.91" lengthAdjust="spacingAndGlyphs">ERp46 treated</text>
<defs>
<filter id="bl6" x="-40%" y="-80%" width="180%" height="260%"><feGaussianBlur stdDeviation="0.8"/></filter>
<filter id="bl9" x="-40%" y="-80%" width="180%" height="260%"><feGaussianBlur stdDeviation="0.9"/></filter>
<filter id="bl13" x="-40%" y="-80%" width="180%" height="260%"><feGaussianBlur stdDeviation="1.3"/></filter>
<linearGradient id="bgE1" x1="0" y1="0" x2="0" y2="1"><stop offset="0" stop-color="#dedede"/><stop offset="0.25" stop-color="#efefef"/><stop offset="0.85" stop-color="#f0f0f0"/><stop offset="1" stop-color="#d8d8d8"/></linearGradient>
<linearGradient id="bgE2" x1="0" y1="0" x2="1" y2="0"><stop offset="0" stop-color="#ebebeb"/><stop offset="0.5" stop-color="#e6e6e6"/><stop offset="0.8" stop-color="#cdcdcd"/><stop offset="1" stop-color="#b6b6b6"/></linearGradient>
<linearGradient id="bgG1" x1="0" y1="0" x2="0" y2="1"><stop offset="0" stop-color="#c6c6c6"/><stop offset="0.3" stop-color="#d6d6d6"/><stop offset="0.8" stop-color="#e0e0e0"/><stop offset="1" stop-color="#c4c4c4"/></linearGradient>
<linearGradient id="bgG2" x1="0" y1="0" x2="1" y2="0"><stop offset="0" stop-color="#c9c9c9"/><stop offset="0.45" stop-color="#c2c2c2"/><stop offset="0.75" stop-color="#b1b1b1"/><stop offset="1" stop-color="#939393"/></linearGradient>
</defs>
<line x1="51.50" y1="458.60" x2="88.20" y2="458.60" stroke="#6b6b6b" stroke-width="1.4"/>
<line x1="93.80" y1="458.60" x2="130.50" y2="458.60" stroke="#6b6b6b" stroke-width="1.4"/>
<text x="63.45" y="455.00" font-size="8.0" textLength="12.67" lengthAdjust="spacingAndGlyphs">NA</text>
<text x="106.18" y="455.00" font-size="8.0" textLength="11.98" lengthAdjust="spacingAndGlyphs">Act</text>
<rect x="49.00" y="481.00" width="86.50" height="3.60" fill="#8e8e8e"/>
<rect x="49.00" y="462.20" width="86.50" height="19.00" fill="url(#bgE1)" stroke="#3a3a3a" stroke-width="1.5" rx="0.8"/>
<rect x="51.60" y="470.60" width="16.20" height="5.60" rx="2.55" fill="#262626" filter="url(#bl6)"/>
<rect x="73.60" y="469.20" width="14.20" height="4.40" rx="2.00" fill="#7d7d7d" filter="url(#bl9)"/>
<rect x="93.00" y="466.40" width="16.80" height="10.00" rx="4.00" fill="#030303" filter="url(#bl6)"/>
<rect x="115.00" y="468.20" width="16.20" height="8.80" rx="3.60" fill="#0a0a0a" filter="url(#bl6)"/>
<rect x="49.00" y="484.20" width="86.50" height="18.50" fill="url(#bgE2)" stroke="#4a4a4a" stroke-width="1.5" rx="0.8"/>
<rect x="51.60" y="491.00" width="18.00" height="6.80" rx="3.09" fill="#8c8c8c" filter="url(#bl9)"/>
<rect x="94.80" y="488.40" width="16.80" height="8.40" rx="3.80" fill="#030303" filter="url(#bl6)"/>
<text x="36.52" y="474.80" font-size="8.2" textLength="9.34" lengthAdjust="spacingAndGlyphs">β3</text>
<text x="22.26" y="495.70" font-size="8.4" textLength="23.56" lengthAdjust="spacingAndGlyphs">ERp46</text>
<line x1="51.50" y1="606.30" x2="88.20" y2="606.30" stroke="#2a2a2a" stroke-width="1.2"/>
<line x1="93.80" y1="606.30" x2="130.50" y2="606.30" stroke="#2a2a2a" stroke-width="1.2"/>
<text x="63.45" y="602.70" font-size="8.0" textLength="12.67" lengthAdjust="spacingAndGlyphs">NA</text>
<text x="106.18" y="602.70" font-size="8.0" textLength="11.98" lengthAdjust="spacingAndGlyphs">Act</text>
<rect x="48.60" y="611.00" width="86.90" height="18.30" fill="url(#bgG1)" stroke="#161616" stroke-width="1.5" rx="0.8"/>
<rect x="51.20" y="616.80" width="15.20" height="7.80" rx="3.50" fill="#262626" filter="url(#bl6)"/>
<rect x="71.80" y="616.80" width="17.40" height="7.80" rx="3.50" fill="#2a2a2a" filter="url(#bl6)"/>
<rect x="93.00" y="614.20" width="17.40" height="11.60" rx="4.00" fill="#020202" filter="url(#bl6)"/>
<rect x="113.60" y="614.80" width="18.40" height="10.60" rx="3.80" fill="#060606" filter="url(#bl6)"/>
<rect x="48.60" y="632.40" width="86.90" height="18.20" fill="url(#bgG2)" stroke="#161616" stroke-width="1.5" rx="0.8"/>
<rect x="52.60" y="639.60" width="13.80" height="6.20" rx="2.82" fill="#939393" filter="url(#bl9)"/>
<rect x="97.20" y="637.80" width="15.80" height="7.60" rx="3.45" fill="#333333" filter="url(#bl9)"/>
<rect x="118.00" y="638.00" width="13.80" height="8.00" rx="3.50" fill="#7a7a7a" filter="url(#bl13)"/>
<text x="36.22" y="622.70" font-size="8.2" textLength="9.45" lengthAdjust="spacingAndGlyphs">β3</text>
<text x="33.06" y="642.80" font-size="8.4" textLength="12.96" lengthAdjust="spacingAndGlyphs">PDI</text>
<g transform="translate(60.15,516.10) rotate(-45)"><text x="0" y="0" font-size="9.0" text-anchor="end" stroke="#1a1a1a" stroke-width="0.16" textLength="23.67" lengthAdjust="spacingAndGlyphs">ERp46</text><text x="0.3" y="-3.2" font-size="6.0" stroke="#1a1a1a" stroke-width="0.08" textLength="6.90" lengthAdjust="spacingAndGlyphs">fl/fl</text></g>
<g transform="translate(81.40,516.55) rotate(-45)"><text x="0" y="0" font-size="9.0" text-anchor="end" stroke="#1a1a1a" stroke-width="0.16" textLength="52.48" lengthAdjust="spacingAndGlyphs">Pf4-Cre/ERp46</text><text x="0.3" y="-3.2" font-size="6.0" stroke="#1a1a1a" stroke-width="0.08" textLength="6.90" lengthAdjust="spacingAndGlyphs">fl/fl</text></g>
<g transform="translate(103.55,516.10) rotate(-45)"><text x="0" y="0" font-size="9.0" text-anchor="end" stroke="#1a1a1a" stroke-width="0.16" textLength="23.67" lengthAdjust="spacingAndGlyphs">ERp46</text><text x="0.3" y="-3.2" font-size="6.0" stroke="#1a1a1a" stroke-width="0.08" textLength="6.90" lengthAdjust="spacingAndGlyphs">fl/fl</text></g>
<g transform="translate(125.00,516.55) rotate(-45)"><text x="0" y="0" font-size="9.0" text-anchor="end" stroke="#1a1a1a" stroke-width="0.16" textLength="52.48" lengthAdjust="spacingAndGlyphs">Pf4-Cre/ERp46</text><text x="0.3" y="-3.2" font-size="6.0" stroke="#1a1a1a" stroke-width="0.08" textLength="6.90" lengthAdjust="spacingAndGlyphs">fl/fl</text></g>
<g transform="translate(59.50,664.55) rotate(-45)"><text x="0" y="0" font-size="9.0" text-anchor="end" stroke="#1a1a1a" stroke-width="0.16" textLength="12.90" lengthAdjust="spacingAndGlyphs">PDI</text><text x="0.3" y="-3.2" font-size="6.0" stroke="#1a1a1a" stroke-width="0.08" textLength="6.90" lengthAdjust="spacingAndGlyphs">fl/fl</text></g>
<g transform="translate(81.30,665.20) rotate(-45)"><text x="0" y="0" font-size="9.0" text-anchor="end" stroke="#1a1a1a" stroke-width="0.16" textLength="41.72" lengthAdjust="spacingAndGlyphs">Pf4-Cre/PDI</text><text x="0.3" y="-3.2" font-size="6.0" stroke="#1a1a1a" stroke-width="0.08" textLength="6.90" lengthAdjust="spacingAndGlyphs">fl/fl</text></g>
<g transform="translate(102.90,664.55) rotate(-45)"><text x="0" y="0" font-size="9.0" text-anchor="end" stroke="#1a1a1a" stroke-width="0.16" textLength="12.90" lengthAdjust="spacingAndGlyphs">PDI</text><text x="0.3" y="-3.2" font-size="6.0" stroke="#1a1a1a" stroke-width="0.08" textLength="6.90" lengthAdjust="spacingAndGlyphs">fl/fl</text></g>
<g transform="translate(124.90,665.20) rotate(-45)"><text x="0" y="0" font-size="9.0" text-anchor="end" stroke="#1a1a1a" stroke-width="0.16" textLength="41.72" lengthAdjust="spacingAndGlyphs">Pf4-Cre/PDI</text><text x="0.3" y="-3.2" font-size="6.0" stroke="#1a1a1a" stroke-width="0.08" textLength="6.90" lengthAdjust="spacingAndGlyphs">fl/fl</text></g>
<line x1="210.60" y1="429.40" x2="210.60" y2="503.60" stroke="#1a1a1a" stroke-width="1.1"/>
<line x1="210.10" y1="503.10" x2="256.20" y2="503.10" stroke="#1a1a1a" stroke-width="1.1"/>
<line x1="207.20" y1="503.10" x2="210.60" y2="503.10" stroke="#1a1a1a" stroke-width="1"/>
<text x="205.00" y="506.10" font-size="8.6" text-anchor="end" stroke="#1a1a1a" stroke-width="0.05" textLength="10.90" lengthAdjust="spacingAndGlyphs">0.0</text>
<line x1="207.20" y1="479.90" x2="210.60" y2="479.90" stroke="#1a1a1a" stroke-width="1"/>
<text x="205.00" y="482.90" font-size="8.6" text-anchor="end" stroke="#1a1a1a" stroke-width="0.05" textLength="10.90" lengthAdjust="spacingAndGlyphs">0.5</text>
<line x1="207.20" y1="456.60" x2="210.60" y2="456.60" stroke="#1a1a1a" stroke-width="1"/>
<text x="205.00" y="459.60" font-size="8.6" text-anchor="end" stroke="#1a1a1a" stroke-width="0.05" textLength="10.90" lengthAdjust="spacingAndGlyphs">1.0</text>
<line x1="207.20" y1="433.40" x2="210.60" y2="433.40" stroke="#1a1a1a" stroke-width="1"/>
<text x="205.00" y="436.40" font-size="8.6" text-anchor="end" stroke="#1a1a1a" stroke-width="0.05" textLength="10.90" lengthAdjust="spacingAndGlyphs">1.5</text>
<rect x="221.30" y="456.70" width="9.80" height="46.40" fill="#e07f90" stroke="#d8697f" stroke-width="0.6"/>
<rect x="241.50" y="481.20" width="10.00" height="21.90" fill="#7ba1c5" stroke="#6690ba" stroke-width="0.6"/>
<line x1="246.50" y1="479.70" x2="246.50" y2="483.40" stroke="#0c4a88" stroke-width="1.0"/>
<line x1="243.90" y1="479.70" x2="249.10" y2="479.70" stroke="#0c4a88" stroke-width="1.0"/>
<line x1="243.90" y1="483.40" x2="249.10" y2="483.40" stroke="#0c4a88" stroke-width="1.0"/>
<rect x="247.90" y="475.50" width="2.6" height="2.6" rx="0.5" fill="#0c4a88"/>
<rect x="243.40" y="478.90" width="2.6" height="2.6" rx="0.5" fill="#0c4a88"/>
<rect x="245.50" y="478.90" width="2.6" height="2.6" rx="0.5" fill="#0c4a88"/>
<rect x="245.50" y="486.50" width="2.6" height="2.6" rx="0.5" fill="#0c4a88"/>
<circle cx="223.60" cy="456.40" r="1.3" fill="#c0092c"/>
<circle cx="225.40" cy="456.40" r="1.3" fill="#c0092c"/>
<circle cx="227.20" cy="456.40" r="1.3" fill="#c0092c"/>
<circle cx="228.80" cy="456.40" r="1.3" fill="#c0092c"/>
<line x1="226.20" y1="503.10" x2="226.20" y2="505.90" stroke="#1a1a1a" stroke-width="1"/>
<line x1="246.50" y1="503.10" x2="246.50" y2="505.90" stroke="#1a1a1a" stroke-width="1"/>
<line x1="221.00" y1="448.30" x2="251.80" y2="448.30" stroke="#2a2a2a" stroke-width="1.2"/>
<text x="231.15" y="448.50" font-size="7" font-weight="bold" text-anchor="middle" fill="#1a1a1a">*</text>
<text x="234.65" y="448.50" font-size="7" font-weight="bold" text-anchor="middle" fill="#1a1a1a">*</text>
<text x="238.15" y="448.50" font-size="7" font-weight="bold" text-anchor="middle" fill="#1a1a1a">*</text>
<text x="241.65" y="448.50" font-size="7" font-weight="bold" text-anchor="middle" fill="#1a1a1a">*</text>
<line x1="289.60" y1="429.40" x2="289.60" y2="503.60" stroke="#1a1a1a" stroke-width="1.1"/>
<line x1="289.10" y1="503.10" x2="334.60" y2="503.10" stroke="#1a1a1a" stroke-width="1.1"/>
<line x1="286.20" y1="503.10" x2="289.60" y2="503.10" stroke="#1a1a1a" stroke-width="1"/>
<text x="284.00" y="506.10" font-size="8.6" text-anchor="end" stroke="#1a1a1a" stroke-width="0.05" textLength="10.90" lengthAdjust="spacingAndGlyphs">0.0</text>
<line x1="286.20" y1="479.90" x2="289.60" y2="479.90" stroke="#1a1a1a" stroke-width="1"/>
<text x="284.00" y="482.90" font-size="8.6" text-anchor="end" stroke="#1a1a1a" stroke-width="0.05" textLength="10.90" lengthAdjust="spacingAndGlyphs">0.5</text>
<line x1="286.20" y1="456.60" x2="289.60" y2="456.60" stroke="#1a1a1a" stroke-width="1"/>
<text x="284.00" y="459.60" font-size="8.6" text-anchor="end" stroke="#1a1a1a" stroke-width="0.05" textLength="10.90" lengthAdjust="spacingAndGlyphs">1.0</text>
<line x1="286.20" y1="433.40" x2="289.60" y2="433.40" stroke="#1a1a1a" stroke-width="1"/>
<text x="284.00" y="436.40" font-size="8.6" text-anchor="end" stroke="#1a1a1a" stroke-width="0.05" textLength="10.90" lengthAdjust="spacingAndGlyphs">1.5</text>
<rect x="299.70" y="456.70" width="9.80" height="46.40" fill="#e07f90" stroke="#d8697f" stroke-width="0.6"/>
<rect x="320.30" y="478.80" width="10.00" height="24.30" fill="#7ba1c5" stroke="#6690ba" stroke-width="0.6"/>
<line x1="325.30" y1="475.20" x2="325.30" y2="482.00" stroke="#0c4a88" stroke-width="1.0"/>
<line x1="322.70" y1="475.20" x2="327.90" y2="475.20" stroke="#0c4a88" stroke-width="1.0"/>
<line x1="322.70" y1="482.00" x2="327.90" y2="482.00" stroke="#0c4a88" stroke-width="1.0"/>
<rect x="326.40" y="472.00" width="2.6" height="2.6" rx="0.5" fill="#0c4a88"/>
<rect x="322.20" y="475.60" width="2.6" height="2.6" rx="0.5" fill="#0c4a88"/>
<rect x="324.10" y="485.80" width="2.6" height="2.6" rx="0.5" fill="#0c4a88"/>
<rect x="322.70" y="479.70" width="2.6" height="2.6" rx="0.5" fill="#0c4a88"/>
<circle cx="302.00" cy="456.40" r="1.3" fill="#c0092c"/>
<circle cx="303.80" cy="456.40" r="1.3" fill="#c0092c"/>
<circle cx="305.60" cy="456.40" r="1.3" fill="#c0092c"/>
<circle cx="307.20" cy="456.40" r="1.3" fill="#c0092c"/>
<line x1="304.60" y1="503.10" x2="304.60" y2="505.90" stroke="#1a1a1a" stroke-width="1"/>
<line x1="325.30" y1="503.10" x2="325.30" y2="505.90" stroke="#1a1a1a" stroke-width="1"/>
<line x1="299.40" y1="448.30" x2="330.60" y2="448.30" stroke="#2a2a2a" stroke-width="1.2"/>
<text x="311.50" y="448.50" font-size="7" font-weight="bold" text-anchor="middle" fill="#1a1a1a">*</text>
<text x="315.00" y="448.50" font-size="7" font-weight="bold" text-anchor="middle" fill="#1a1a1a">*</text>
<text x="318.50" y="448.50" font-size="7" font-weight="bold" text-anchor="middle" fill="#1a1a1a">*</text>
<line x1="211.00" y1="573.10" x2="211.00" y2="645.10" stroke="#1a1a1a" stroke-width="1.1"/>
<line x1="210.50" y1="644.60" x2="256.20" y2="644.60" stroke="#1a1a1a" stroke-width="1.1"/>
<line x1="207.60" y1="644.60" x2="211.00" y2="644.60" stroke="#1a1a1a" stroke-width="1"/>
<text x="205.40" y="647.60" font-size="8.6" text-anchor="end" stroke="#1a1a1a" stroke-width="0.05" textLength="10.90" lengthAdjust="spacingAndGlyphs">0.0</text>
<line x1="207.60" y1="617.30" x2="211.00" y2="617.30" stroke="#1a1a1a" stroke-width="1"/>
<text x="205.40" y="620.30" font-size="8.6" text-anchor="end" stroke="#1a1a1a" stroke-width="0.05" textLength="10.90" lengthAdjust="spacingAndGlyphs">1.0</text>
<line x1="207.60" y1="590.40" x2="211.00" y2="590.40" stroke="#1a1a1a" stroke-width="1"/>
<text x="205.40" y="593.40" font-size="8.6" text-anchor="end" stroke="#1a1a1a" stroke-width="0.05" textLength="10.90" lengthAdjust="spacingAndGlyphs">2.0</text>
<line x1="207.60" y1="631.00" x2="211.00" y2="631.00" stroke="#1a1a1a" stroke-width="1"/>
<line x1="207.60" y1="603.80" x2="211.00" y2="603.80" stroke="#1a1a1a" stroke-width="1"/>
<line x1="207.60" y1="576.90" x2="211.00" y2="576.90" stroke="#1a1a1a" stroke-width="1"/>
<rect x="221.30" y="617.60" width="9.80" height="27.00" fill="#e07f90" stroke="#d8697f" stroke-width="0.6"/>
<rect x="241.80" y="608.00" width="10.00" height="36.60" fill="#7ba1c5" stroke="#6690ba" stroke-width="0.6"/>
<line x1="246.80" y1="602.30" x2="246.80" y2="613.30" stroke="#0c4a88" stroke-width="1.0"/>
<line x1="244.20" y1="602.30" x2="249.40" y2="602.30" stroke="#0c4a88" stroke-width="1.0"/>
<line x1="244.20" y1="613.30" x2="249.40" y2="613.30" stroke="#0c4a88" stroke-width="1.0"/>
<rect x="245.60" y="588.50" width="2.6" height="2.6" rx="0.5" fill="#0c4a88"/>
<rect x="245.60" y="595.20" width="2.6" height="2.6" rx="0.5" fill="#0c4a88"/>
<rect x="245.60" y="604.50" width="2.6" height="2.6" rx="0.5" fill="#0c4a88"/>
<rect x="244.90" y="609.30" width="2.6" height="2.6" rx="0.5" fill="#0c4a88"/>
<rect x="243.30" y="621.80" width="2.6" height="2.6" rx="0.5" fill="#0c4a88"/>
<rect x="248.10" y="617.40" width="2.6" height="2.6" rx="0.5" fill="#0c4a88"/>
<circle cx="223.60" cy="617.50" r="1.3" fill="#c0092c"/>
<circle cx="225.40" cy="617.50" r="1.3" fill="#c0092c"/>
<circle cx="227.20" cy="617.50" r="1.3" fill="#c0092c"/>
<circle cx="228.80" cy="617.50" r="1.3" fill="#c0092c"/>
<line x1="226.20" y1="644.60" x2="226.20" y2="647.40" stroke="#1a1a1a" stroke-width="1"/>
<line x1="246.80" y1="644.60" x2="246.80" y2="647.40" stroke="#1a1a1a" stroke-width="1"/>
<line x1="221.00" y1="576.90" x2="252.10" y2="576.90" stroke="#2a2a2a" stroke-width="1.2"/>
<text x="232.30" y="574.30" font-size="8.4" stroke="#1a1a1a" stroke-width="0.08" textLength="7.76" lengthAdjust="spacingAndGlyphs">ns</text>
<line x1="289.80" y1="573.10" x2="289.80" y2="645.10" stroke="#1a1a1a" stroke-width="1.1"/>
<line x1="289.30" y1="644.60" x2="334.60" y2="644.60" stroke="#1a1a1a" stroke-width="1.1"/>
<line x1="286.40" y1="644.60" x2="289.80" y2="644.60" stroke="#1a1a1a" stroke-width="1"/>
<text x="284.20" y="647.60" font-size="8.6" text-anchor="end" stroke="#1a1a1a" stroke-width="0.05" textLength="10.90" lengthAdjust="spacingAndGlyphs">0.0</text>
<line x1="286.40" y1="617.30" x2="289.80" y2="617.30" stroke="#1a1a1a" stroke-width="1"/>
<text x="284.20" y="620.30" font-size="8.6" text-anchor="end" stroke="#1a1a1a" stroke-width="0.05" textLength="10.90" lengthAdjust="spacingAndGlyphs">0.5</text>
<line x1="286.40" y1="590.40" x2="289.80" y2="590.40" stroke="#1a1a1a" stroke-width="1"/>
<text x="284.20" y="593.40" font-size="8.6" text-anchor="end" stroke="#1a1a1a" stroke-width="0.05" textLength="10.90" lengthAdjust="spacingAndGlyphs">1.0</text>
<line x1="286.40" y1="631.00" x2="289.80" y2="631.00" stroke="#1a1a1a" stroke-width="1"/>
<line x1="286.40" y1="603.80" x2="289.80" y2="603.80" stroke="#1a1a1a" stroke-width="1"/>
<line x1="286.40" y1="576.90" x2="289.80" y2="576.90" stroke="#1a1a1a" stroke-width="1"/>
<rect x="299.70" y="590.70" width="9.80" height="53.90" fill="#e07f90" stroke="#d8697f" stroke-width="0.6"/>
<rect x="319.90" y="592.60" width="10.00" height="52.00" fill="#7ba1c5" stroke="#6690ba" stroke-width="0.6"/>
<line x1="324.90" y1="587.90" x2="324.90" y2="596.50" stroke="#0c4a88" stroke-width="1.0"/>
<line x1="322.30" y1="587.90" x2="327.50" y2="587.90" stroke="#0c4a88" stroke-width="1.0"/>
<line x1="322.30" y1="596.50" x2="327.50" y2="596.50" stroke="#0c4a88" stroke-width="1.0"/>
<rect x="323.70" y="578.50" width="2.6" height="2.6" rx="0.5" fill="#0c4a88"/>
<rect x="321.20" y="583.10" width="2.6" height="2.6" rx="0.5" fill="#0c4a88"/>
<rect x="326.00" y="584.70" width="2.6" height="2.6" rx="0.5" fill="#0c4a88"/>
<rect x="323.70" y="601.40" width="2.6" height="2.6" rx="0.5" fill="#0c4a88"/>
<rect x="323.70" y="606.80" width="2.6" height="2.6" rx="0.5" fill="#0c4a88"/>
<circle cx="302.00" cy="590.60" r="1.3" fill="#c0092c"/>
<circle cx="303.80" cy="590.60" r="1.3" fill="#c0092c"/>
<circle cx="305.60" cy="590.60" r="1.3" fill="#c0092c"/>
<circle cx="307.20" cy="590.60" r="1.3" fill="#c0092c"/>
<line x1="304.60" y1="644.60" x2="304.60" y2="647.40" stroke="#1a1a1a" stroke-width="1"/>
<line x1="324.90" y1="644.60" x2="324.90" y2="647.40" stroke="#1a1a1a" stroke-width="1"/>
<line x1="299.40" y1="576.90" x2="330.20" y2="576.90" stroke="#2a2a2a" stroke-width="1.2"/>
<text x="310.55" y="574.30" font-size="8.4" stroke="#1a1a1a" stroke-width="0.08" textLength="7.76" lengthAdjust="spacingAndGlyphs">ns</text>
<text x="220.49" y="553.50" font-size="9.0" stroke="#1a1a1a" stroke-width="0.06" textLength="25.88" lengthAdjust="spacingAndGlyphs">Non-act</text>
<text x="306.38" y="553.50" font-size="9.0" stroke="#1a1a1a" stroke-width="0.06" textLength="10.47" lengthAdjust="spacingAndGlyphs">Act</text>
<text x="220.49" y="693.60" font-size="9.0" stroke="#1a1a1a" stroke-width="0.06" textLength="25.88" lengthAdjust="spacingAndGlyphs">Non-act</text>
<text x="306.48" y="693.60" font-size="9.0" stroke="#1a1a1a" stroke-width="0.06" textLength="10.57" lengthAdjust="spacingAndGlyphs">Act</text>
<text transform="translate(188.70,485.70) rotate(-90)" x="-0.55" y="0" font-size="10.5" stroke="#1a1a1a" stroke-width="0.1" textLength="40.98" lengthAdjust="spacingAndGlyphs">β3  MPB/β3</text>
<text transform="translate(188.70,629.10) rotate(-90)" x="-0.56" y="0" font-size="10.5" stroke="#1a1a1a" stroke-width="0.1" textLength="41.90" lengthAdjust="spacingAndGlyphs">β3  MPB/β3</text>
<g transform="translate(225.70,519.10) rotate(-45)"><text x="0" y="0" font-size="9.4" text-anchor="end" fill="#1a1a1a" stroke="#1a1a1a" stroke-width="0.18" textLength="22.99" lengthAdjust="spacingAndGlyphs">ERp46</text><text x="0.5" y="-3.4" font-size="5.9" stroke="#1a1a1a" stroke-width="0.08" textLength="6.41" lengthAdjust="spacingAndGlyphs">fl/fl</text></g>
<g transform="translate(251.10,514.00) rotate(-45)"><text x="0" y="0" font-size="9.4" text-anchor="end" fill="#1a1a1a" stroke="#1a1a1a" stroke-width="0.18" textLength="28.00" lengthAdjust="spacingAndGlyphs">Pf4-Cre/</text></g>
<g transform="translate(254.00,523.10) rotate(-45)"><text x="0" y="0" font-size="9.4" text-anchor="end" fill="#1a1a1a" stroke="#1a1a1a" stroke-width="0.18" textLength="22.99" lengthAdjust="spacingAndGlyphs">ERp46</text><text x="0.5" y="-3.4" font-size="5.9" stroke="#1a1a1a" stroke-width="0.08" textLength="6.41" lengthAdjust="spacingAndGlyphs">fl/fl</text></g>
<g transform="translate(225.40,660.90) rotate(-45)"><text x="0" y="0" font-size="9.4" text-anchor="end" fill="#1a1a1a" stroke="#1a1a1a" stroke-width="0.18" textLength="12.54" lengthAdjust="spacingAndGlyphs">PDI</text><text x="0.5" y="-3.4" font-size="5.9" stroke="#1a1a1a" stroke-width="0.08" textLength="6.41" lengthAdjust="spacingAndGlyphs">fl/fl</text></g>
<g transform="translate(251.40,655.80) rotate(-45)"><text x="0" y="0" font-size="9.4" text-anchor="end" fill="#1a1a1a" stroke="#1a1a1a" stroke-width="0.18" textLength="28.00" lengthAdjust="spacingAndGlyphs">Pf4-Cre/</text></g>
<g transform="translate(250.80,668.40) rotate(-45)"><text x="0" y="0" font-size="9.4" text-anchor="end" fill="#1a1a1a" stroke="#1a1a1a" stroke-width="0.18" textLength="12.54" lengthAdjust="spacingAndGlyphs">PDI</text><text x="0.5" y="-3.4" font-size="5.9" stroke="#1a1a1a" stroke-width="0.08" textLength="6.41" lengthAdjust="spacingAndGlyphs">fl/fl</text></g>
<g transform="translate(304.10,519.10) rotate(-45)"><text x="0" y="0" font-size="9.4" text-anchor="end" fill="#1a1a1a" stroke="#1a1a1a" stroke-width="0.18" textLength="22.99" lengthAdjust="spacingAndGlyphs">ERp46</text><text x="0.5" y="-3.4" font-size="5.9" stroke="#1a1a1a" stroke-width="0.08" textLength="6.41" lengthAdjust="spacingAndGlyphs">fl/fl</text></g>
<g transform="translate(329.50,514.00) rotate(-45)"><text x="0" y="0" font-size="9.4" text-anchor="end" fill="#1a1a1a" stroke="#1a1a1a" stroke-width="0.18" textLength="28.00" lengthAdjust="spacingAndGlyphs">Pf4-Cre/</text></g>
<g transform="translate(332.40,523.10) rotate(-45)"><text x="0" y="0" font-size="9.4" text-anchor="end" fill="#1a1a1a" stroke="#1a1a1a" stroke-width="0.18" textLength="22.99" lengthAdjust="spacingAndGlyphs">ERp46</text><text x="0.5" y="-3.4" font-size="5.9" stroke="#1a1a1a" stroke-width="0.08" textLength="6.41" lengthAdjust="spacingAndGlyphs">fl/fl</text></g>
<g transform="translate(303.80,660.90) rotate(-45)"><text x="0" y="0" font-size="9.4" text-anchor="end" fill="#1a1a1a" stroke="#1a1a1a" stroke-width="0.18" textLength="12.54" lengthAdjust="spacingAndGlyphs">PDI</text><text x="0.5" y="-3.4" font-size="5.9" stroke="#1a1a1a" stroke-width="0.08" textLength="6.41" lengthAdjust="spacingAndGlyphs">fl/fl</text></g>
<g transform="translate(329.80,655.80) rotate(-45)"><text x="0" y="0" font-size="9.4" text-anchor="end" fill="#1a1a1a" stroke="#1a1a1a" stroke-width="0.18" textLength="28.00" lengthAdjust="spacingAndGlyphs">Pf4-Cre/</text></g>
<g transform="translate(329.20,668.40) rotate(-45)"><text x="0" y="0" font-size="9.4" text-anchor="end" fill="#1a1a1a" stroke="#1a1a1a" stroke-width="0.18" textLength="12.54" lengthAdjust="spacingAndGlyphs">PDI</text><text x="0.5" y="-3.4" font-size="5.9" stroke="#1a1a1a" stroke-width="0.08" textLength="6.41" lengthAdjust="spacingAndGlyphs">fl/fl</text></g>
</svg></body></html>
